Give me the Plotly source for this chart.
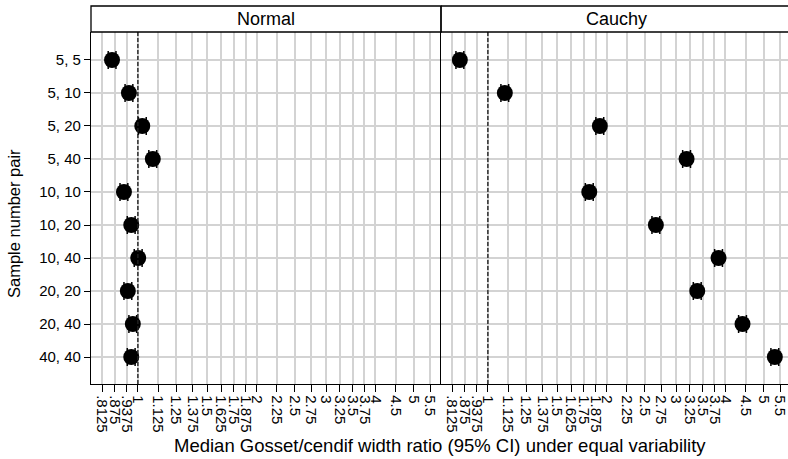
import plotly.graph_objects as go

# Sample-size pairs (rows, top to bottom)
pairs = ["5, 5", "5, 10", "5, 20", "5, 40", "10, 10", "10, 20", "10, 40", "20, 20", "20, 40", "40, 40"]

# Median Gosset/cendif width ratio, with 95% CI bounds
normal_med = [0.860, 0.949, 1.026, 1.091, 0.922, 0.962, 1.002, 0.943, 0.971, 0.962]
normal_lo = [0.841, 0.928, 1.003, 1.066, 0.901, 0.940, 0.979, 0.922, 0.949, 0.940]
normal_hi = [0.880, 0.971, 1.050, 1.116, 0.943, 0.984, 1.025, 0.965, 0.993, 0.984]

cauchy_med = [0.849, 1.104, 1.922, 3.188, 1.807, 2.665, 3.842, 3.393, 4.419, 5.336]
cauchy_lo = [0.830, 1.079, 1.878, 3.116, 1.766, 2.605, 3.755, 3.316, 4.319, 5.215]
cauchy_hi = [0.869, 1.129, 1.966, 3.262, 1.849, 2.727, 3.931, 3.472, 4.521, 5.460]

panels = ["Normal", "Cauchy"]

tick_vals = [0.8125, 0.875, 0.9375, 1, 1.125, 1.25, 1.375, 1.5, 1.625, 1.75, 1.875,
             2, 2.25, 2.5, 2.75, 3, 3.25, 3.5, 3.75, 4, 4.5, 5, 5.5]
tick_text = [".8125", ".875", ".9375", "1", "1.125", "1.25", "1.375", "1.5", "1.625", "1.75", "1.875",
             "2", "2.25", "2.5", "2.75", "3", "3.25", "3.5", "3.75", "4", "4.5", "5", "5.5"]

FONT = "Liberation Sans, Arial, sans-serif"
W, H = 788, 459
ML, MR, MT, MB = 91, 0, 32, 75
plot_w = W - ML - MR
plot_h = H - MT - MB
panel_px = 350
split = panel_px / plot_w
px_per_decade = 394.6
x_lo = -0.1188
x_hi_left = x_lo + panel_px / px_per_decade
x_hi_right = x_lo + (plot_w - panel_px) / px_per_decade

ypos = list(range(len(pairs)))
GRID = "#d3d3d3"

fig = go.Figure()

for i, (med, lo, hi) in enumerate([(normal_med, normal_lo, normal_hi),
                                   (cauchy_med, cauchy_lo, cauchy_hi)]):
    xa = "x" if i == 0 else "x2"
    ya = "y" if i == 0 else "y2"
    fig.add_trace(go.Scatter(
        x=med, y=ypos, xaxis=xa, yaxis=ya, mode="markers",
        marker=dict(symbol="circle", size=16, color="black"),
        error_x=dict(type="data", symmetric=False,
                     array=[h - m for h, m in zip(hi, med)],
                     arrayminus=[m - l for m, l in zip(med, lo)],
                     color="black", thickness=1.5, width=9),
        showlegend=False, hoverinfo="skip",
    ))

common_x = dict(type="log", tickmode="array", tickvals=tick_vals, ticktext=tick_text,
                tickangle=90, tickfont=dict(size=15, color="black", family=FONT),
                ticks="outside", ticklen=7, tickcolor="black", tickwidth=1.2,
                showline=True, linecolor="black", linewidth=1.3,
                showgrid=True, gridcolor=GRID, gridwidth=1.7,
                zeroline=False, fixedrange=True, ticklabeloverflow="allow")

yrange = [9.818, -0.848]
fig.update_layout(
    width=W, height=H,
    margin=dict(l=ML, r=MR, t=MT, b=MB, pad=0),
    paper_bgcolor="white", plot_bgcolor="white",
    font=dict(family=FONT, color="black"),
    xaxis=dict(common_x, domain=[0, split], range=[x_lo, x_hi_left], anchor="y"),
    xaxis2=dict(common_x, domain=[split, 1], range=[x_lo, x_hi_right], anchor="y2"),
    yaxis=dict(range=yrange, tickmode="array", tickvals=ypos, ticktext=pairs,
               tickfont=dict(size=15, color="black", family=FONT),
               ticks="outside", ticklen=6, tickcolor="black", tickwidth=1.2,
               showline=True, linecolor="black", linewidth=1.3,
               showgrid=True, gridcolor=GRID, gridwidth=1.7,
               zeroline=False, anchor="x", domain=[0, 1]),
    yaxis2=dict(range=yrange, tickmode="array", tickvals=ypos, showticklabels=False,
                ticks="", showline=True, linecolor="black", linewidth=1.3,
                showgrid=True, gridcolor=GRID, gridwidth=1.7,
                zeroline=False, anchor="x2", domain=[0, 1]),
)

# reference line at ratio = 1 in each panel
for xr in ["x", "x2"]:
    fig.add_shape(type="line", xref=xr, yref="paper", x0=1, x1=1, y0=0, y1=1,
                  line=dict(color="#222222", width=1.4, dash="4px,2px"))

# facet strips
strip_top = 1 + 26 / plot_h
fig.add_shape(type="rect", xref="paper", yref="paper", x0=0, x1=split, y0=1, y1=strip_top,
              line=dict(color="black", width=1.3), fillcolor="white", layer="above")
fig.add_shape(type="line", xref="paper", yref="paper", x0=split, x1=1.01, y0=strip_top, y1=strip_top,
              line=dict(color="black", width=1.3))
fig.add_shape(type="line", xref="paper", yref="paper", x0=split, x1=1.01, y0=1, y1=1,
              line=dict(color="black", width=1.3))
fig.add_shape(type="line", xref="paper", yref="paper", x0=split, x1=split, y0=1, y1=strip_top,
              line=dict(color="black", width=1.3))

strip_mid = 1 + 13 / plot_h
for name, xc in zip(panels, [split / 2, split + panel_px / plot_w / 2]):
    fig.add_annotation(text=name, xref="paper", yref="paper", x=xc, y=strip_mid,
                       showarrow=False, xanchor="center", yanchor="middle",
                       font=dict(size=18, color="black", family=FONT))

# axis titles
fig.add_annotation(text="Median Gosset/cendif width ratio (95% CI) under equal variability",
                   xref="paper", yref="paper", x=(440 - ML) / plot_w, y=(384 - 445) / plot_h,
                   showarrow=False, xanchor="center", yanchor="middle",
                   font=dict(size=18.5, color="black", family=FONT))
fig.add_annotation(text="Sample number pair", xref="paper", yref="paper",
                   x=(14 - ML) / plot_w, y=(384 - 224) / plot_h, textangle=-90,
                   showarrow=False, xanchor="center", yanchor="middle",
                   font=dict(size=16.5, color="black", family=FONT))

fig.write_html("out.html")
